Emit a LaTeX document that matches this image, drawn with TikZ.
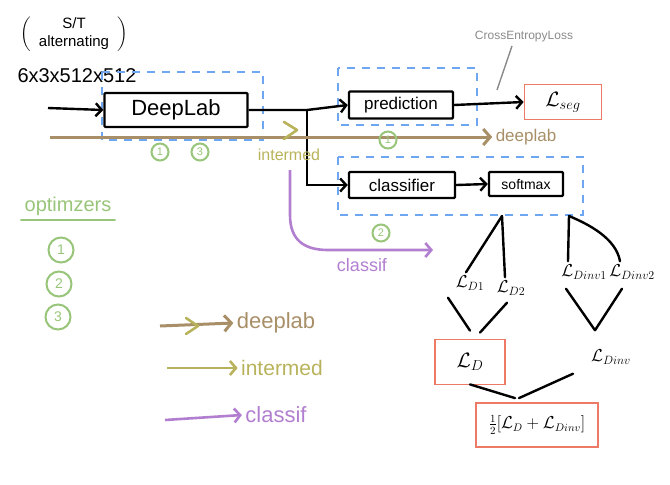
\documentclass[tikz,border=0pt]{standalone}
\usepackage{amsmath}
\usepackage{fontspec}
\setmainfont{Liberation Sans}
\usepackage{tikz}
\usetikzlibrary{positioning, arrows.meta}
\definecolor{grpBlue}{HTML}{6EA6F2}
\definecolor{lossRed}{HTML}{EC7A66}
\definecolor{dlBrown}{HTML}{A88F68}
\definecolor{intOlive}{HTML}{B8B35A}
\definecolor{clsPurple}{HTML}{B27FD0}
\definecolor{optGreen}{HTML}{98C57A}
\definecolor{ceGray}{HTML}{8A8A8A}

\tikzset{
  netbox/.style={draw, line width=2.4pt, rounded corners=1pt, inner sep=2pt, font=\fontsize{17}{19}\selectfont},
  lossbox/.style={draw=lossRed, line width=1.8pt, inner sep=2pt},
  grp/.style={draw=grpBlue, dashed, dash pattern=on 8pt off 7pt, line width=1.5pt},
  flow/.style={line width=2.4pt, -{Straight Barb[length=6pt,width=13pt]}},
  tree/.style={line width=2.4pt, line cap=round},
  lossname/.style={font=\fontsize{17}{19}\selectfont},
  dlline/.style={draw=dlBrown, line width=3pt, -{Straight Barb[length=7pt,width=16pt]}},
  intline/.style={draw=intOlive, line width=2.6pt, -{Straight Barb[length=6pt,width=14pt]}},
  clsline/.style={draw=clsPurple, line width=2.6pt, -{Straight Barb[length=6pt,width=14pt]}},
  optnum/.style={circle, draw=optGreen, line width=2pt, text=optGreen, inner sep=1pt, minimum size=17pt, font=\fontsize{11}{12}\selectfont},
}

\begin{document}
\begin{tikzpicture}[x=1pt, y=-1pt, font=\fontsize{13}{15}\selectfont]
  \useasboundingbox (0,0) rectangle (670,485);
  % input
  \node[font=\fontsize{15}{17}\selectfont] (mode) at (74,34) {$\left(\hspace{2pt}\text{\begin{tabular}{c}S/T\\[1pt]alternating\end{tabular}}\hspace{2pt}\right)$};
  \node[font=\fontsize{20}{22}\selectfont] (shape) at (77,76) {6x3x512x512};
  \coordinate (inp) at (48,108);
  % groups
  \draw[grp] (102,72) rectangle (263,140);
  \draw[grp] (338,68) rectangle (477,125);
  \draw[grp] (338,157) rectangle (583,215);
  % network blocks
  \node[netbox, minimum width=143, minimum height=34, font=\fontsize{22}{24}\selectfont] (dl) at (176,110) {DeepLab};
  \node[netbox, minimum width=104, minimum height=27] (pred) at (401,105) {prediction};
  \node[netbox, minimum width=106, minimum height=26] (clf) at (402,185) {classifier};
  \node[netbox, minimum width=74, minimum height=24, font=\fontsize{14}{16}\selectfont] (sm) at (526,184) {softmax};
  \node[lossbox, minimum width=77, minimum height=35, font=\fontsize{20}{22}\selectfont] (lseg) at (563,102) {$\mathcal{L}_{seg}$};
  \node[text=ceGray, font=\fontsize{12}{14}\selectfont] (ce) at (524,37) {CrossEntropyLoss};
  \coordinate (ceend) at (497,90);
  \coordinate (br) at (307,110);
  % forward arrows
  \draw[flow] (inp) -- (dl.west);
  \draw[flow] (dl.east) -- (br) -- (pred.west);
  \draw[flow] (br) |- (clf.west);
  \draw[flow] (pred.east) -- (lseg.west);
  \draw[flow] (clf.east) -- (sm.west);
  \draw[ceGray, line width=1.4pt] ([xshift=-12pt]ce.south) -- (ceend);
  % backward paths
  \coordinate (dstart) at (50,137);
  \node[text=dlBrown, font=\fontsize{17}{19}\selectfont] (dlab) at (526,137) {deeplab};
  \draw[dlline] (dstart) -- (dlab.west);
  \draw[intOlive, line width=2.6pt, line cap=round, line join=round] (284,122) -- (297,130) -- (284,139);
  \node[text=intOlive, font=\fontsize{16}{18}\selectfont] (intlab) at (289,155) {intermed};
  \coordinate (cstart) at (290,170);
  \coordinate (cend) at (433,250);
  \draw[clsline] (cstart) -- (290,215) .. controls (290,240) and (304,250) .. (328,250) -- (cend);
  \node[text=clsPurple, font=\fontsize{18}{20}\selectfont] (clab) at (362,265) {classif};
  % optimizer tags
  \node[optnum] (t1) at (160,152) {1};
  \node[optnum] (t3) at (200,152) {3};
  \node[optnum] (t1b) at (388,140) {1};
  \node[optnum] (t2) at (381,233) {2};
  % losses
  \node[lossname] (ld1) at (470,283) {$\mathcal{L}_{D1}$};
  \node[lossname] (ld2) at (511,288) {$\mathcal{L}_{D2}$};
  \node[lossname] (ldi1) at (584,272) {$\mathcal{L}_{Dinv1}$};
  \node[lossname] (ldi2) at (632,272) {$\mathcal{L}_{Dinv2}$};
  \coordinate (smL) at (502,216);
  \coordinate (smR) at (569,216);
  \draw[tree] (smL) -- ([xshift=-4pt]ld1.north);
  \draw[tree] (smL) -- ([xshift=-6pt]ld2.north);
  \draw[tree] (smR) -- ([xshift=-16pt]ldi1.north);
  \draw[tree] (smR) .. controls (588,224) and (616,238) .. ([xshift=-12pt]ldi2.north);
  \node[lossbox, minimum width=70, minimum height=45, font=\fontsize{20}{22}\selectfont] (ld) at (470,362) {$\mathcal{L}_D$};
  \node[lossname] (ldinv) at (611,357) {$\mathcal{L}_{Dinv}$};
  \draw[tree] ([xshift=-22pt,yshift=-4pt]ld1.south) -- ([yshift=8pt]ld.north);
  \draw[tree] ([xshift=-4pt,yshift=-4pt]ld2.south) -- ([xshift=10pt,yshift=6pt]ld.north);
  \draw[tree] ([xshift=-18pt,yshift=-6pt]ldi1.south) -- ([xshift=-16pt,yshift=16pt]ldinv.north);
  \draw[tree] ([xshift=-10pt,yshift=-6pt]ldi2.south) -- ([xshift=-16pt,yshift=16pt]ldinv.north);
  \node[lossbox, minimum width=122, minimum height=44, font=\fontsize{16}{18}\selectfont] (tot) at (537,425) {$\frac{1}{2}[\mathcal{L}_D+\mathcal{L}_{Dinv}]$};
  \draw[tree] ([yshift=1pt]ld.south) -- ([xshift=-22pt,yshift=4pt]tot.north);
  \draw[tree] ([xshift=-38pt,yshift=-6pt]ldinv.south) -- ([xshift=-18pt,yshift=4pt]tot.north);
  % optimizers
  \node[text=optGreen, font=\fontsize{20}{22}\selectfont] (opt) at (68,206) {optimzers};
  \draw[optGreen, line width=2.4pt, line cap=round] ([yshift=-1pt]opt.south west) -- ([yshift=-1pt]opt.south east);
  \node[optnum, minimum size=25pt, font=\fontsize{14}{15}\selectfont] (o1) at (61,250) {1};
  \node[optnum, minimum size=25pt, font=\fontsize{14}{15}\selectfont] (o2) at (59,284) {2};
  \node[optnum, minimum size=25pt, font=\fontsize{14}{15}\selectfont] (o3) at (58,317) {3};
  % legend
  \coordinate (k1a) at (160,326);
  \node[text=dlBrown, font=\fontsize{22}{24}\selectfont] (k1) at (276,323) {deeplab};
  \draw[dlline] (k1a) -- (k1.west);
  \draw[intOlive, line width=2.6pt, line cap=round, line join=round] (186,318) -- (198,326) -- (186,334);
  \coordinate (k2a) at (167,368);
  \node[text=intOlive, font=\fontsize{21}{23}\selectfont] (k2) at (282,368) {intermed};
  \draw[intline] (k2a) -- (k2.west);
  \coordinate (k3a) at (165,420);
  \node[text=clsPurple, font=\fontsize{22}{24}\selectfont] (k3) at (276,415) {classif};
  \draw[clsline] (k3a) -- (k3.west);
\end{tikzpicture}
\end{document}
